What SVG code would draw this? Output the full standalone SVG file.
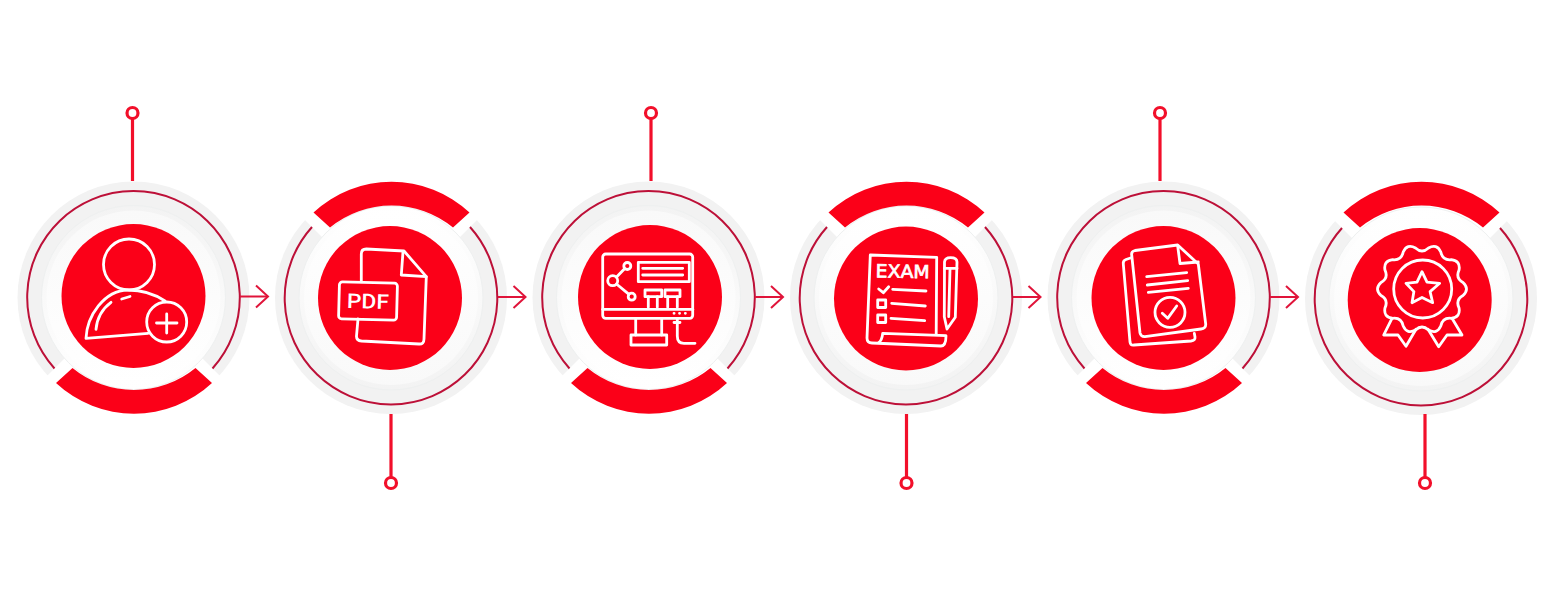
<svg xmlns="http://www.w3.org/2000/svg" width="1555" height="595" viewBox="0 0 1555 595">
<style>
.disc{fill:#fb0018}
.ic{fill:none;stroke:#fff;stroke-width:2.8;stroke-linecap:round;stroke-linejoin:round}
.ict{fill:#fff;text-anchor:middle}
.pin{fill:none;stroke:#f20f2a;stroke-width:3.200}
.arr{fill:none;stroke:#e0143a;stroke-width:2;marker-end:url(#chev)}
</style>
<defs>
<linearGradient id="g1" x1="0" y1="0" x2="0" y2="1"><stop offset="0" stop-color="#f3f3f3"/><stop offset="1" stop-color="#fff"/></linearGradient>
<linearGradient id="g2" x1="0" y1="0" x2="0" y2="1"><stop offset="0" stop-color="#f9f9f9"/><stop offset="1" stop-color="#fff"/></linearGradient>
<marker id="chev" markerUnits="userSpaceOnUse" markerWidth="30" markerHeight="30" refX="15" refY="15" orient="auto" overflow="visible"><path d="M3,4 L15,15 L3,26" fill="none" stroke="#e0143a" stroke-width="2"/></marker>
<g id="base">
<circle r="116" fill="#f2f2f2"/>
<polygon points="0,-8 -135,127 135,127" fill="#fff"/>
<path d="M-79,71 A106.3,106.3 0 1 1 79,71" fill="none" stroke="#bd1038" stroke-width="2"/>
<circle r="92" fill="url(#g1)" stroke="#eef0f0" stroke-width="1"/>
<circle r="87" fill="url(#g2)"/>
</g>
<path id="arc" d="M-78,87 A114.5,114.5 0 0 0 78,87 L61.5,72 A97,97 0 0 1 -61.5,72 Z" fill="#fb0018"/>
</defs>
<rect width="1555" height="595" fill="#fff"/>

<g id="node-1">
<use href="#base" transform="translate(133.500,297.500)"/>
<use href="#arc" transform="translate(134,296)"/>
<circle class="disc" cx="133.500" cy="296" r="72"/>
<g class="ic">
<circle cx="129" cy="264.500" r="25.500"/>
<path d="M148,333.300 L86,338.300 C87,316 104,290.500 128,290 C143,290 156,295 165,301"/>
<circle cx="166.700" cy="322" r="20"/>
<path d="M156.500,323H177M166.700,314V333"/>
<path d="M96,329.300 C97,318 102,309 111,302.300M121.700,299L130,296.500"/>
</g>
</g>

<g id="node-2">
<use href="#base" transform="translate(391,298) rotate(180)"/>
<use href="#arc" transform="translate(391.500,299.500) rotate(180)"/>
<circle class="disc" cx="390" cy="298" r="72"/>
<g class="ic">
<path d="M361.300,281.700 V254 Q361.300,249 366.300,249 L404,251 L426.300,276.700 L424,339 Q424,344.300 419,344 L361.500,341 Q356.300,340.500 356.500,336 L358,319"/>
<path d="M403,251.700 L401.300,275 L426.300,276.700"/>
<rect x="339" y="282.500" width="58" height="37" rx="3" transform="rotate(1.500 368 301)"/>
</g>
<text class="ict" x="368" y="308.500" font-size="20.500" textLength="42" lengthAdjust="spacingAndGlyphs" style="font-family:Roboto,'Liberation Sans',sans-serif;font-weight:500" transform="rotate(1.500 368 301)">PDF</text>
</g>

<g id="node-3">
<use href="#base" transform="translate(648.500,297.500)"/>
<use href="#arc" transform="translate(649,296)"/>
<circle class="disc" cx="650" cy="297" r="72"/>
<g class="ic">
<rect x="602.700" y="254" width="90" height="64.300" rx="3"/>
<path d="M602.700,309.300H692.700"/>
<path d="M635.700,318.500V335M661.700,318.500V335"/>
<rect x="631" y="335" width="35.700" height="10"/>
<path d="M674,322.500H680M677.300,318.500V336 Q677.300,343.300 684,343.300H695"/>
<path d="M674,313.300h.1M679.500,313.300h.1M685.300,313.300h.1"/>
<circle cx="627.300" cy="266" r="3.500"/><circle cx="612.700" cy="280.700" r="5"/><circle cx="631.700" cy="296.700" r="3.500"/>
<path d="M624.800,268.500L616.300,277.200M616.500,284L629,294.300"/>
<rect x="638.300" y="262.300" width="51" height="19.400"/>
<path d="M642.700,268.300H682.700M642.700,275H682.700"/>
<rect x="645" y="290" width="16.700" height="6.700"/><path d="M648.300,296.700V307.300M657.300,296.700V307.300"/>
<rect x="665" y="290" width="15" height="6.700"/><path d="M667.700,296.700V307.300M677.300,296.700V307.300"/>
</g>
</g>

<g id="node-4">
<use href="#base" transform="translate(906,298) rotate(180)"/>
<use href="#arc" transform="translate(906.500,299.500) rotate(180)"/>
<circle class="disc" cx="906" cy="298.500" r="72"/>
<g class="ic">
<path d="M936.200,333.800 L936.700,257.300 L870.300,255 L867,338 Q867,343 872,343 L941,346 Q946,346 946,335.700 L882.700,333.300 Q882,341 878,343"/>
<path d="M878.700,289L883.300,292.700L888.700,286.700"/>
<path d="M892.700,289.300L926,291M891.700,303.300L925.300,306M891,318.300L924.700,320.700"/>
<rect x="877.700" y="300" width="8" height="7.500"/><rect x="877.700" y="315" width="8" height="7.500"/>
<path d="M944.300,316.700 L944.500,262 Q945,257.700 950.500,257.700 Q957,257.700 957,262 L955.300,317.300 L947,329 Z"/>
<path d="M944.500,268.300H957M950,269.300L948.700,316.700"/>
</g>
<text class="ict" x="902.700" y="277.700" font-size="18" textLength="54" lengthAdjust="spacingAndGlyphs" stroke="#fff" stroke-width="0.7" style="font-family:'DejaVu Sans',sans-serif" transform="rotate(1 902 271)">EXAM</text>
</g>

<g id="node-5">
<use href="#base" transform="translate(1163.500,297.500)"/>
<use href="#arc" transform="translate(1164,296)"/>
<circle class="disc" cx="1163.500" cy="298" r="72"/>
<g class="ic">
<path d="M1177.700,245 L1135,250.500 Q1131,251.500 1131.700,255 L1140,333 Q1141,337 1145,336.700 L1201,329 Q1206,328.500 1205.700,324 L1198.300,264 Z"/>
<path d="M1177.700,246 L1180,263.500 L1198.300,262"/>
<path d="M1130.500,258 L1126,259.500 Q1122.800,260.500 1123.300,264 L1130,342 Q1130.500,345.500 1134,345 L1191,341 Q1195.500,340.500 1195,337 L1194.300,333.300"/>
<path d="M1146.700,276.700L1186.700,272.700M1147.300,285L1187.700,280.700M1148.300,292.300L1188.300,288.300"/>
<circle cx="1170" cy="312.300" r="15"/>
<path d="M1162.300,313.300L1167.700,318.300L1176.700,306"/>
</g>
</g>

<g id="node-6">
<use href="#base" transform="translate(1421,299) rotate(180)"/>
<use href="#arc" transform="translate(1421.500,299.500) rotate(180)"/>
<circle class="disc" cx="1419.700" cy="300" r="72"/>
<g class="ic" transform="translate(1422,289)">
<path d="M41,-6.500 Q48,0 41,6.500 Q33.300,10.800 37,18.800 Q38.800,28.200 29.300,29.300 Q20.600,28.300 18.800,37 Q14.800,45.700 6.500,41 Q0,35 -6.500,41 Q-14.800,45.700 -18.800,37 Q-20.600,28.300 -29.300,29.300 Q-38.800,28.200 -37,18.800 Q-33.300,10.800 -41,6.500 Q-48,0 -41,-6.500 Q-33.300,-10.800 -37,-18.800 Q-38.800,-28.200 -29.300,-29.300 Q-20.600,-28.300 -18.800,-37 Q-14.800,-45.700 -6.500,-41 Q0,-35 6.500,-41 Q14.800,-45.700 18.800,-37 Q20.600,-28.300 29.300,-29.300 Q38.800,-28.200 37,-18.800 Q33.300,-10.800 41,-6.500 Z"/>
<circle cx="0.700" cy="0" r="29"/>
<path d="M0,-17.300 L5,-6.900 L17.700,-5.700 L8.100,2.600 L10.700,13.700 L0,8.500 L-10,13.700 L-8.100,2.600 L-16,-5.700 L-5,-6.900 Z"/>
<path d="M-30,29.300 L-38.300,46 L-24,46 L-16,57.300 L-6,40.300"/>
<path d="M30,29.300 L40,46 L25,46 L16.700,57.700 L6,40.300"/>
</g>
</g>

<g id="connectors">
<path class="pin" d="M132.500,118.500V181"/><circle class="pin" cx="132.500" cy="113" r="5.500"/>
<path class="pin" d="M391,414V477"/><circle class="pin" cx="391" cy="483" r="5.500"/>
<path class="pin" d="M651,118.500V181"/><circle class="pin" cx="651" cy="113" r="5.500"/>
<path class="pin" d="M906.500,414V477"/><circle class="pin" cx="906.500" cy="483" r="5.500"/>
<path class="pin" d="M1160,118.500V181"/><circle class="pin" cx="1160" cy="113" r="5.500"/>
<path class="pin" d="M1425,414V477"/><circle class="pin" cx="1425" cy="483" r="5.500"/>
<path class="arr" d="M240,296.500H268"/>
<path class="arr" d="M498,297H525.500"/>
<path class="arr" d="M755,297H783"/>
<path class="arr" d="M1013,297H1040.500"/>
<path class="arr" d="M1270,297H1298"/>
</g>
</svg>
